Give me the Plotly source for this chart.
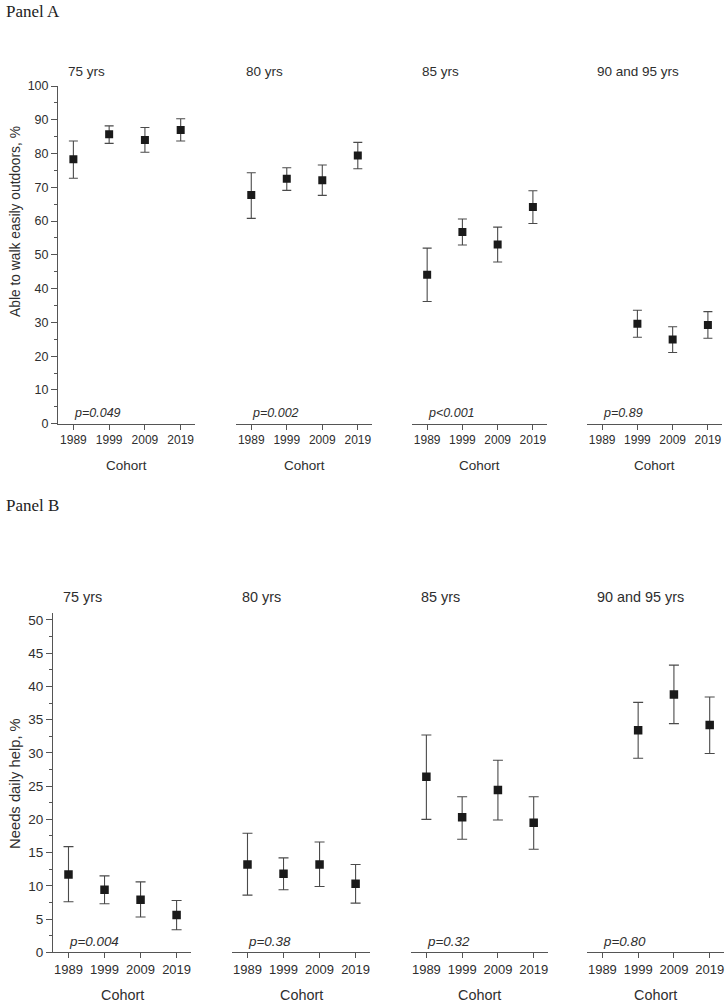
import plotly.graph_objects as go

W, H = 727, 1004

cohorts = ["1989", "1999", "2009", "2019"]
groups = ["75 yrs", "80 yrs", "85 yrs", "90 and 95 yrs"]

# Panel A: able to walk easily outdoors, %
walk_est = [
    [78.3, 85.7, 84.0, 87.0],
    [67.7, 72.5, 72.1, 79.4],
    [44.1, 56.8, 53.1, 64.2],
    [None, 29.6, 24.9, 29.2],
]
walk_hi = [
    [83.7, 88.2, 87.7, 90.3],
    [74.3, 75.8, 76.6, 83.3],
    [52.0, 60.6, 58.2, 69.0],
    [None, 33.6, 28.7, 33.2],
]
walk_lo = [
    [72.7, 83.0, 80.4, 83.7],
    [60.8, 69.1, 67.6, 75.5],
    [36.2, 52.9, 47.9, 59.3],
    [None, 25.6, 21.1, 25.3],
]
walk_p = ["p=0.049", "p=0.002", "p<0.001", "p=0.89"]

# Panel B: needs daily help, %
help_est = [
    [11.7, 9.4, 7.9, 5.6],
    [13.2, 11.8, 13.2, 10.3],
    [26.4, 20.3, 24.4, 19.5],
    [None, 33.4, 38.8, 34.2],
]
help_hi = [
    [15.9, 11.5, 10.6, 7.8],
    [17.9, 14.2, 16.6, 13.2],
    [32.7, 23.4, 28.9, 23.4],
    [None, 37.6, 43.2, 38.4],
]
help_lo = [
    [7.6, 7.3, 5.3, 3.4],
    [8.6, 9.4, 9.9, 7.4],
    [20.0, 17.0, 19.9, 15.5],
    [None, 29.2, 34.4, 29.9],
]
help_p = ["p=0.004", "p=0.38", "p=0.32", "p=0.80"]

SANS = "Liberation Sans, Arial, sans-serif"
SERIF = "Liberation Serif, Times New Roman, serif"
AX = "#555555"
TXT = "#2e2e2e"


def px_x(p):
    return p / W


def px_y(p):
    return 1 - p / H


# panel B is drawn a touch larger than panel A in the original
rows = [
    dict(est=walk_est, hi=walk_hi, lo=walk_lo, pv=walk_p, fs=13.5, tick=12,
         ms=8, cap=4.5,
         xdom=[(58, 195), (236, 372), (412, 547), (587, 722)],
         ydom=(423.7, 86), yrange=[0, 100], dtick=10, minor=5, pval_y=3.2,
         ytitle="Able to walk easily outdoors, %", ytitle_y=222, ytitle_fs=13.8,
         title_y=71, cohort_y=465, panel="Panel A", panel_y=12),
    dict(est=help_est, hi=help_hi, lo=help_lo, pv=help_p, fs=14.4, tick=13,
         ms=8.5, cap=5,
         xdom=[(53, 191), (232, 370), (411, 548), (587, 724)],
         ydom=(952.3, 613.3), yrange=[0, 51], dtick=5, minor=2.5, pval_y=1.6,
         ytitle="Needs daily help, %", ytitle_y=784, ytitle_fs=14.8,
         title_y=597, cohort_y=995, panel="Panel B", panel_y=505),
]

fig = go.Figure()
annotations = []
n = 0
for r in rows:
    for j in range(4):
        n += 1
        xa = "x" if n == 1 else f"x{n}"
        ya = "y" if n == 1 else f"y{n}"
        est = r["est"][j]
        up = [None if e is None else h - e for e, h in zip(est, r["hi"][j])]
        dn = [None if e is None else e - l for e, l in zip(est, r["lo"][j])]
        fig.add_trace(go.Scatter(
            x=cohorts, y=est, mode="markers", xaxis=xa, yaxis=ya,
            marker=dict(symbol="square", size=r["ms"], color="#1a1a1a"),
            error_y=dict(type="data", symmetric=False, array=up, arrayminus=dn,
                         color="#4a4a4a", thickness=1.1, width=r["cap"]),
            showlegend=False))

        x0, x1 = r["xdom"][j]
        y0, y1 = r["ydom"]
        key = "" if n == 1 else str(n)
        fig.layout["xaxis" + key] = dict(
            domain=[px_x(x0), px_x(x1)], anchor=ya, type="category",
            range=[-0.43, 3.4], showline=True, linecolor=AX, linewidth=1,
            ticks="outside", ticklen=5, tickcolor=AX, showgrid=False,
            zeroline=False, automargin=False,
            tickfont=dict(family=SANS, size=r["tick"], color=TXT),
            fixedrange=True)
        fig.layout["yaxis" + key] = dict(
            domain=[px_y(y0), px_y(y1)], anchor=xa, range=r["yrange"],
            visible=(j == 0), showline=True, linecolor=AX, linewidth=1,
            ticks="outside", ticklen=6, tickcolor=AX, dtick=r["dtick"],
            tick0=0, showgrid=False, zeroline=False, automargin=False,
            minor=dict(ticks="outside", ticklen=3, tickcolor=AX,
                       dtick=r["minor"], tick0=0, showgrid=False),
            tickfont=dict(family=SANS, size=r["tick"] + 0.5, color=TXT),
            fixedrange=True)

        # group title
        annotations.append(dict(
            text=groups[j], xref="paper", yref="paper",
            x=px_x(x0 + 8), y=px_y(r["title_y"]), xanchor="left",
            yanchor="middle", showarrow=False,
            font=dict(family=SANS, size=r["fs"], color=TXT)))
        # x-axis title
        annotations.append(dict(
            text="Cohort", xref="paper", yref="paper",
            x=px_x((x0 + x1) / 2), y=px_y(r["cohort_y"]), xanchor="center",
            yanchor="middle", showarrow=False,
            font=dict(family=SANS, size=r["fs"], color=TXT)))
        # p-value
        annotations.append(dict(
            text=f"<i>{r['pv'][j]}</i>", xref=xa, yref=ya,
            x=0, y=r["pval_y"], xanchor="left", yanchor="middle",
            xshift=-1, showarrow=False,
            font=dict(family=SANS, size=r["fs"] - 1, color=TXT)))

    annotations.append(dict(
        text=r["ytitle"], xref="paper", yref="paper", textangle=-90,
        x=px_x(15), y=px_y(r["ytitle_y"]), xanchor="center", yanchor="middle",
        showarrow=False, font=dict(family=SANS, size=r["ytitle_fs"], color=TXT)))
    annotations.append(dict(
        text=r["panel"], xref="paper", yref="paper",
        x=px_x(4), y=px_y(r["panel_y"]), xanchor="left", yanchor="middle",
        showarrow=False, font=dict(family=SERIF, size=17, color="#222222")))

fig.update_layout(
    width=W, height=H, margin=dict(l=0, r=0, t=0, b=0, pad=0),
    paper_bgcolor="white", plot_bgcolor="white",
    annotations=annotations, showlegend=False)

# pin the figure to the window's top-left corner (no page margin, no scroll)
pin = ("document.body.style.margin='0';"
       "document.body.style.overflow='hidden';"
       "var d=document.getElementById('{plot_id}');"
       "d.style.position='fixed';d.style.top='0';d.style.left='0';")
fig.write_html("out.html", config={"displayModeBar": False}, post_script=pin)
